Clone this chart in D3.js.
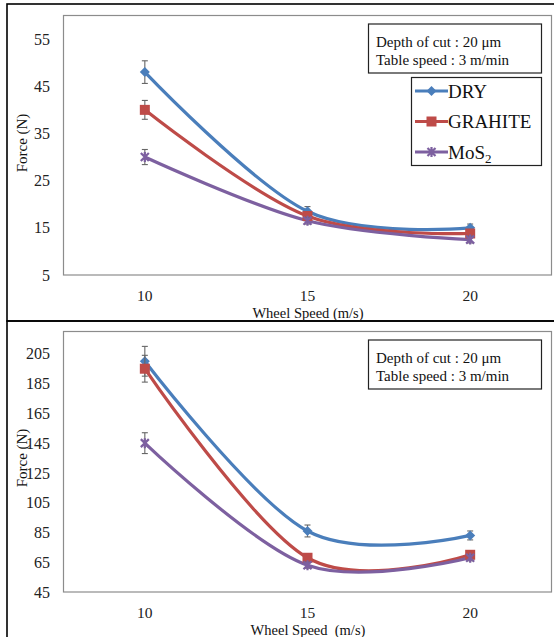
<!DOCTYPE html>
<html>
<head>
<meta charset="utf-8">
<script src="https://cdn.jsdelivr.net/npm/d3@7"></script>
<style>
  body { margin: 0; background: #fff; }
  text { font-family: "Liberation Serif", "DejaVu Serif", serif; }
</style>
</head>
<body>
<svg id="chart" width="554" height="637"></svg>
<script>
// wheel speed categories (m/s)
var speeds = [10, 15, 20];
var seriesNames = ["DRY", "GRAHITE", "MoS2"];
var seriesColors = ["#4A7EBB", "#BE4B48", "#7D60A0"];

// top chart : forces (N)
var topDry = [48, 18.5, 15];
var topGraphite = [40, 17.5, 13.8];
var topMos2 = [30, 16.5, 12.5];
var topDryErr = [2.4, 1, 0.8];
var topGraphiteErr = [2, 0.8, 0.8];
var topMos2Err = [1.6, 0.7, 0.7];
var topTicks = [5, 15, 25, 35, 45, 55];

// bottom chart : forces (N)
var botDry = [200, 86, 83];
var botGraphite = [195, 68, 70];
var botMos2 = [145, 63, 68];
var botDryErr = [10, 4, 3];
var botGraphiteErr = [9, 2, 2];
var botMos2Err = [7, 2, 2];
var botTicks = [45, 65, 85, 105, 125, 145, 165, 185, 205];

var serif = "Liberation Serif";
var svg = d3.select("#chart");

// outer frames of the two figures
svg.append("rect").attr("x", 7).attr("y", 4).attr("width", 560).attr("height", 317)
  .attr("fill", "none").attr("stroke", "#000").attr("stroke-width", 1.6);
svg.append("rect").attr("x", 7).attr("y", 321).attr("width", 560).attr("height", 330)
  .attr("fill", "none").attr("stroke", "#000").attr("stroke-width", 1.6);

function drawMarker(g, shape, color) {
  if (shape == 0) {
    g.append("path").attr("d", "M0,-5 L5,0 L0,5 L-5,0 Z").attr("fill", color);
  } else if (shape == 1) {
    g.append("rect").attr("x", -5).attr("y", -5).attr("width", 10).attr("height", 10).attr("fill", color);
  } else {
    g.append("path").attr("d", "M-4,-4 L4,4 M-4,4 L4,-4 M0,-5 L0,5")
      .attr("stroke", color).attr("stroke-width", 2.2).attr("fill", "none");
  }
}

function drawPanel(p) {
  var x = d3.scalePoint().domain(speeds).range([p.left, p.right]).padding(0.5);
  var y = d3.scaleLinear().domain(p.domain).range([p.bottom, p.top]);
  var g = svg.append("g").attr("font-family", serif);

  // plot area frame
  g.append("rect").attr("x", p.left).attr("y", p.top)
    .attr("width", p.right - p.left).attr("height", p.bottom - p.top)
    .attr("fill", "none").attr("stroke", "#8c8c8c").attr("stroke-width", 1.2);

  // y tick labels
  g.selectAll(".ytick").data(p.ticks).enter().append("text")
    .attr("x", 50).attr("y", function(d) { return y(d); })
    .attr("dy", "0.35em").attr("text-anchor", "end")
    .attr("font-family", serif).attr("font-size", "16px").attr("fill", "#222")
    .text(function(d) { return d; });

  // x tick labels
  g.selectAll(".xtick").data(speeds).enter().append("text")
    .attr("x", function(d) { return x(d); }).attr("y", p.bottom + 21)
    .attr("dy", "0.35em").attr("text-anchor", "middle")
    .attr("font-family", serif).attr("font-size", "15.5px").attr("fill", "#222")
    .text(function(d) { return d; });

  g.append("text").attr("x", 308).attr("y", p.bottom + 38).attr("dy", "0.35em")
    .attr("text-anchor", "middle").attr("font-family", serif)
    .attr("font-size", "14.5px").attr("fill", "#111")
    .attr("xml:space", "preserve")
    .text(p.xTitle);

  g.append("text").attr("transform", "translate(22," + p.yTitleY + ") rotate(-90)")
    .attr("text-anchor", "middle").attr("dy", "0.35em").attr("font-family", serif)
    .attr("font-size", "15px").attr("fill", "#111")
    .text("Force (N)");

  var line = d3.line()
    .x(function(d, i) { return x(speeds[i]); })
    .y(function(d) { return y(d); })
    .curve(d3.curveCardinal.tension(0));

  p.series.forEach(function(vals, si) {
    g.append("path").attr("d", line(vals)).attr("fill", "none")
      .attr("stroke", seriesColors[si]).attr("stroke-width", 3.2);
  });

  p.series.forEach(function(vals, si) {
    var errs = p.errors[si];
    vals.forEach(function(v, i) {
      var cx = x(speeds[i]);
      var eg = g.append("g").attr("stroke", "#666").attr("stroke-width", 1.1);
      eg.append("line").attr("x1", cx).attr("x2", cx).attr("y1", y(v - errs[i])).attr("y2", y(v + errs[i]));
      eg.append("line").attr("x1", cx - 3).attr("x2", cx + 3).attr("y1", y(v - errs[i])).attr("y2", y(v - errs[i]));
      eg.append("line").attr("x1", cx - 3).attr("x2", cx + 3).attr("y1", y(v + errs[i])).attr("y2", y(v + errs[i]));
      var mg = g.append("g").attr("transform", "translate(" + cx + "," + y(v) + ")");
      drawMarker(mg, si, seriesColors[si]);
    });
  });

  // conditions box
  var b = g.append("g");
  b.append("rect").attr("x", 368.5).attr("y", p.top + 8.5).attr("width", 173).attr("height", 49)
    .attr("fill", "#fff").attr("stroke", "#222").attr("stroke-width", 1.2);
  b.append("text").attr("x", 376).attr("y", p.top + 26).attr("dy", "0.35em")
    .attr("font-family", serif).attr("font-size", "15px").attr("fill", "#111")
    .text("Depth of cut : 20 \u03bcm");
  b.append("text").attr("x", 376).attr("y", p.top + 44).attr("dy", "0.35em")
    .attr("font-family", serif).attr("font-size", "15px").attr("fill", "#111")
    .text("Table speed : 3 m/min");

  if (p.legend) {
    var lg = g.append("g");
    lg.append("rect").attr("x", 411.5).attr("y", 77.5).attr("width", 130).attr("height", 88)
      .attr("fill", "#fff").attr("stroke", "#222").attr("stroke-width", 1.2);
    seriesNames.forEach(function(name, si) {
      var ly = 91 + si * 30.5;
      lg.append("line").attr("x1", 415).attr("x2", 448).attr("y1", ly).attr("y2", ly)
        .attr("stroke", seriesColors[si]).attr("stroke-width", 3.2);
      drawMarker(lg.append("g").attr("transform", "translate(431.5," + ly + ")"), si, seriesColors[si]);
      var t = lg.append("text").attr("x", 448).attr("y", ly).attr("dy", "0.35em")
        .attr("font-family", serif).attr("font-size", "19px").attr("fill", "#111");
      if (name == "MoS2") {
        t.append("tspan").text("MoS");
        t.append("tspan").attr("dy", 4).attr("font-size", "13px").text("2");
      } else {
        t.text(name);
      }
    });
  }
}

drawPanel({
  left: 63.5, right: 551.5, top: 15.5, bottom: 275,
  domain: [5, 60], ticks: topTicks,
  series: [topDry, topGraphite, topMos2],
  errors: [topDryErr, topGraphiteErr, topMos2Err],
  xTitle: "Wheel Speed (m/s)", yTitleY: 143, legend: true
});

drawPanel({
  left: 63.5, right: 551.5, top: 331.5, bottom: 592,
  domain: [45, 220], ticks: botTicks,
  series: [botDry, botGraphite, botMos2],
  errors: [botDryErr, botGraphiteErr, botMos2Err],
  xTitle: "Wheel Speed  (m/s)", yTitleY: 458, legend: false
});
</script>
</body>
</html>
